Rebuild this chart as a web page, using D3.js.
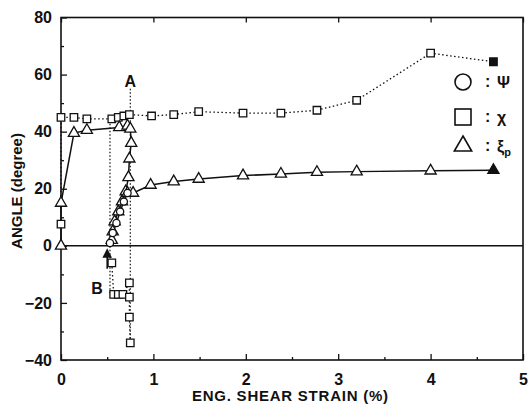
<!DOCTYPE html>
<html>
<head>
<meta charset="utf-8">
<script src="https://cdn.jsdelivr.net/npm/d3@7"></script>
<style>
body{margin:0;background:#fff;}
svg{display:block;}
text{font-family:"Liberation Sans",Arial,sans-serif;fill:#111;}
</style>
</head>
<body>
<svg width="530" height="415"></svg>
<script>
// chi (squares, dotted) - loading path along the top
const chiStrain=[0,0,0.14,0.28,0.55,0.62,0.68,0.74,0.98,1.22,1.49,1.97,2.38,2.77,3.2,4.0,4.68];
const chiAngle=[7.6,45,45,44.5,44.5,45,45.5,46,45.5,46,47,46.5,46.5,47.5,51,67.5,64.5];
// chi unloading branch (down to B and below)
const chiDownStrain=[0.55,0.57,0.62,0.67,0.74,0.74,0.74,0.75];
const chiDownAngle=[-6,-17,-17,-17,-13,-18,-25,-34];
// xi_p (triangles, solid)
const xiStrain=[0,0,0.14,0.28,0.63,0.72,0.75,0.76,0.74,0.73,0.70,0.66,0.62,0.58,0.56,0.55];
const xiAngle=[0,15,39.5,40.5,41.5,42,41,36,30.5,24,19,15.5,12,8.5,5,2];
const xiReStrain=[0.72,0.78,0.97,1.22,1.49,1.97,2.38,2.77,3.2,4.0,4.68];
const xiReAngle=[18.5,18.5,21.3,22.5,23.4,24.6,25.2,25.8,26,26.3,26.5];
// psi (circles, solid) - reloading from B
const psiStrain=[0.53,0.56,0.6,0.64,0.68,0.72];
const psiAngle=[1,4.5,8,12,15.5,18.5];

const xTicks=[0,1,2,3,4,5];
const yTicks=[-40,-20,0,20,40,60,80];

const svg=d3.select("svg");
const x=d3.scaleLinear().domain([0,5]).range([61,523]);
const y=d3.scaleLinear().domain([-40,80]).range([360,17.5]);

// frame
svg.append("rect").attr("x",61).attr("y",17.5).attr("width",462).attr("height",342.5)
   .attr("fill","none").attr("stroke","#111").attr("stroke-width",1.6);

// axes with inward ticks
svg.append("g").attr("transform","translate(0,360)")
   .call(d3.axisBottom(x).tickValues(xTicks).tickSizeInner(-6).tickSizeOuter(0).tickPadding(14).tickFormat(d3.format("d")))
   .call(g=>g.select(".domain").remove());
svg.append("g").attr("transform","translate(0,360)")
   .call(d3.axisBottom(x).tickValues(d3.range(0.5,5,1)).tickSizeInner(-3).tickSizeOuter(0).tickFormat(""))
   .call(g=>g.select(".domain").remove());
svg.append("g").attr("transform","translate(0,17.5)")
   .call(d3.axisTop(x).tickValues(xTicks).tickSizeInner(-5).tickSizeOuter(0).tickFormat(""))
   .call(g=>g.select(".domain").remove());
svg.append("g").attr("transform","translate(61,0)")
   .call(d3.axisLeft(y).tickValues(yTicks).tickSizeInner(-6).tickSizeOuter(0).tickPadding(9))
   .call(g=>g.select(".domain").remove());
svg.append("g").attr("transform","translate(61,0)")
   .call(d3.axisLeft(y).tickValues(d3.range(-30,80,20)).tickSizeInner(-3).tickSizeOuter(0).tickFormat(""))
   .call(g=>g.select(".domain").remove());
svg.selectAll(".tick line").attr("stroke","#111").attr("stroke-width",1.3);
svg.selectAll(".tick text").attr("font-size","16px").attr("font-weight","bold")
   .attr("font-family","'Liberation Sans',Arial,sans-serif").attr("fill","#111");

// zero line
svg.append("line").attr("x1",x(0)).attr("x2",x(5)).attr("y1",y(0)).attr("y2",y(0))
   .attr("stroke","#111").attr("stroke-width",1.5);

// axis titles
svg.append("text").attr("x",290).attr("y",401).attr("text-anchor","middle")
   .attr("font-size","15px").attr("font-weight","bold").attr("textLength",196).text("ENG. SHEAR STRAIN (%)");
svg.append("text").attr("transform","translate(22,191) rotate(-90)").attr("text-anchor","middle")
   .attr("font-size","15px").attr("font-weight","bold").text("ANGLE (degree)");

const line=d3.line().x(d=>x(d[0])).y(d=>y(d[1]));
const zip=(a,b)=>a.map((v,i)=>[v,b[i]]);
const chi=zip(chiStrain,chiAngle), chiDown=zip(chiDownStrain,chiDownAngle);
const xi=zip(xiStrain,xiAngle), xiRe=zip(xiReStrain,xiReAngle), psi=zip(psiStrain,psiAngle);

// guide lines through A and B
svg.append("path").attr("d",line([[0.75,55],[0.75,-35]])).attr("fill","none")
   .attr("stroke","#111").attr("stroke-width",1.2).attr("stroke-dasharray","1.5,2");
svg.append("path").attr("d",line([[0.53,44],[0.53,-17]])).attr("fill","none")
   .attr("stroke","#111").attr("stroke-width",1.2).attr("stroke-dasharray","1.5,2");

// lines
[chi,chiDown].forEach(d=>svg.append("path").attr("d",line(d)).attr("fill","none")
   .attr("stroke","#111").attr("stroke-width",1.3).attr("stroke-dasharray","1.5,2.5"));
[xi,xiRe,psi].forEach(d=>svg.append("path").attr("d",line(d)).attr("fill","none")
   .attr("stroke","#111").attr("stroke-width",1.5));

// markers
const sq=d3.symbol().type(d3.symbolSquare).size(56);
const tri=d3.symbol().type(d3.symbolTriangle).size(54);
svg.append("g").selectAll("path").data(chi.concat(chiDown)).join("path")
   .attr("d",sq).attr("transform",d=>`translate(${x(d[0])},${y(d[1])})`)
   .attr("fill",(d,i)=>i===chi.length-1?"#111":"#fff").attr("stroke","#111").attr("stroke-width",1.3);
svg.append("g").selectAll("path").data(xi.concat(xiRe)).join("path")
   .attr("d",tri).attr("transform",d=>`translate(${x(d[0])},${y(d[1])})`)
   .attr("fill",(d,i)=>i===xi.length+xiRe.length-1?"#111":"#fff").attr("stroke","#111").attr("stroke-width",1.3);
svg.append("g").selectAll("circle").data(psi).join("circle")
   .attr("cx",d=>x(d[0])).attr("cy",d=>y(d[1])).attr("r",3.6)
   .attr("fill","#fff").attr("stroke","#111").attr("stroke-width",1.3);

// A / B labels
svg.append("text").attr("x",x(0.75)).attr("y",y(55)-2).attr("text-anchor","middle")
   .attr("font-size","16px").attr("font-weight","bold").text("A");
svg.append("text").attr("x",x(0.39)).attr("y",y(-17)).attr("text-anchor","middle")
   .attr("font-size","16px").attr("font-weight","bold").text("B");
svg.append("defs").append("marker").attr("id","ah").attr("viewBox","0 0 10 10")
   .attr("refX",5).attr("refY",5).attr("markerWidth",6).attr("markerHeight",6).attr("orient","auto")
   .append("path").attr("d","M0,0L10,5L0,10z").attr("fill","#111");
svg.append("path").attr("d",line([[0.5,-8],[0.5,-2.5]])).attr("stroke","#111")
   .attr("stroke-width",1.6).attr("marker-end","url(#ah)");

// legend
const legY=[82,117,146];
const lg=svg.append("g");
lg.append("circle").attr("cx",463).attr("cy",legY[0]).attr("r",8).attr("fill","none").attr("stroke","#111").attr("stroke-width",1.6);
lg.append("rect").attr("x",455).attr("y",legY[1]-8).attr("width",16).attr("height",16).attr("fill","none").attr("stroke","#111").attr("stroke-width",1.6);
lg.append("path").attr("d",d3.symbol().type(d3.symbolTriangle).size(130)()).attr("transform",`translate(463,${legY[2]})`)
   .attr("fill","none").attr("stroke","#111").attr("stroke-width",1.6);
const legText=["Ψ","χ","ξ"];
legY.forEach((ly,i)=>{
  lg.append("text").attr("x",485).attr("y",ly+5).attr("font-size","16px").attr("font-weight","bold").text(":");
  const t=lg.append("text").attr("x",497).attr("y",ly+6).attr("font-size","16px").attr("font-weight","bold").text(legText[i]);
  if(i===2) t.append("tspan").attr("font-size","11px").attr("dy",4).text("p");
});
</script>
</body>
</html>
